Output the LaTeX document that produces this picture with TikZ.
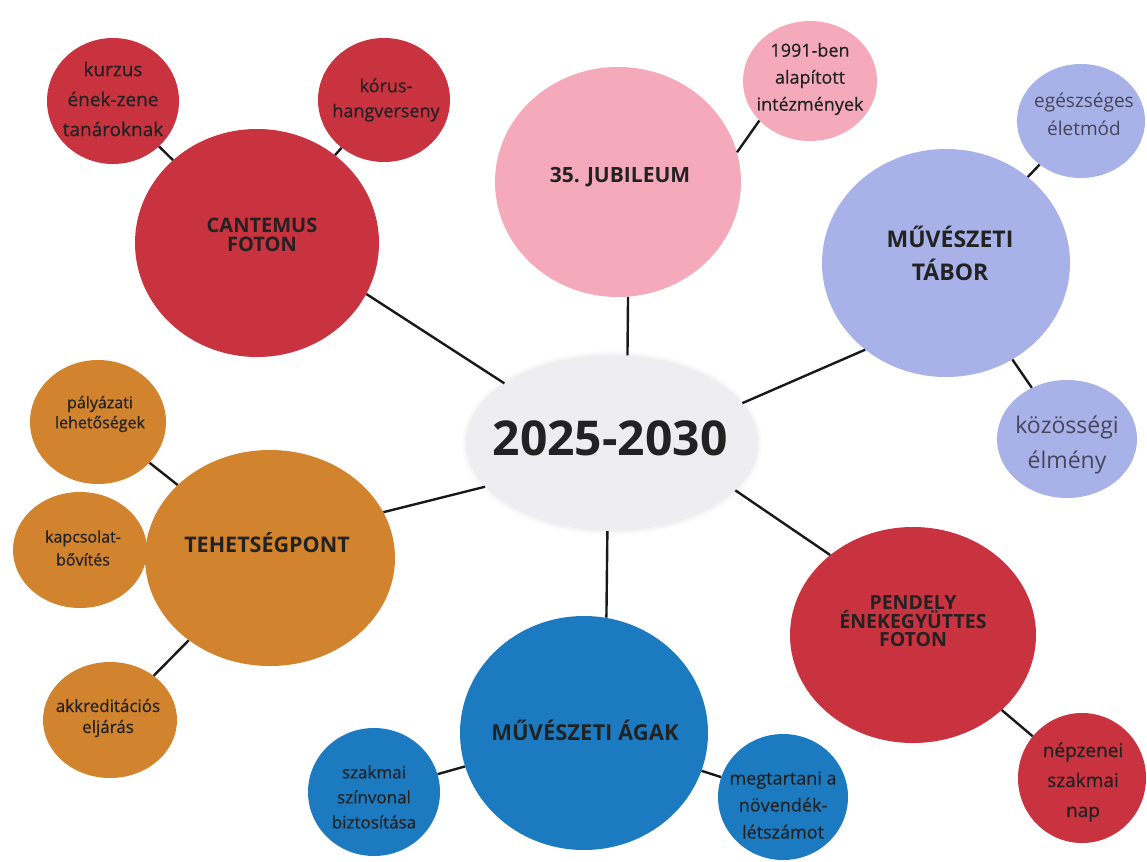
\documentclass[tikz,border=0pt]{standalone}
\usepackage{fontspec}
\setmainfont{Open Sans}
\newfontfamily\semib[FakeBold=0.6]{Open Sans}
\usetikzlibrary{shapes.geometric}
\definecolor{cred}{HTML}{C9323F}
\definecolor{cpink}{HTML}{F4AABB}
\definecolor{clav}{HTML}{A8B1E8}
\definecolor{corange}{HTML}{D1832E}
\definecolor{cblue}{HTML}{1C7BC0}
\definecolor{ccenter}{HTML}{EEEEF1}
\definecolor{txt}{HTML}{222222}
\definecolor{txtgray}{HTML}{45465A}
\tikzset{
  bub/.style={ellipse, inner sep=0pt},
  lbl/.style={inner sep=0pt, align=center, text=txt},
  conn/.style={draw=black!90, line width=2.4pt},
  fsz/.style 2 args={font=\fontsize{#1}{#2}\selectfont\semib},
  gsz/.style 2 args={font=\fontsize{#1}{#2}\selectfont, text=txtgray},
  bfsz/.style 2 args={font=\fontsize{#1}{#2}\selectfont\bfseries},
}
\begin{document}
\begin{tikzpicture}[x=1pt,y=-1pt]
\useasboundingbox (0,0) rectangle (1147,861);
\fill[white] (0,0) rectangle (1147,861);

% centre (soft edge)
\fill[ccenter!25] (612,443) ellipse [x radius=150pt, y radius=92pt];
\fill[ccenter!55] (612,443) ellipse [x radius=148pt, y radius=90pt];
\node[bub, fill=ccenter, minimum width=292pt, minimum height=176pt] (c) at (612,443) {};
\node[lbl, bfsz={48}{50}] (ct) at (610,438) {2025-2030};

% main topics
\node[bub, fill=cred, minimum width=244pt, minimum height=228pt] (cant) at (257,243) {};
\node[lbl, bfsz={20}{19}] (cantt) at (262,235) {CANTEMUS\\FOTON};
\node[bub, fill=cpink, minimum width=246pt, minimum height=230pt] (jub) at (618,182) {};
\node[lbl, bfsz={21}{22}] (jubt) at (620,177) {35. JUBILEUM};
\node[bub, fill=clav, minimum width=248pt, minimum height=228pt] (tab) at (946,263) {};
\node[lbl, bfsz={23}{33}] (tabt) at (950,253) {MŰVÉSZETI\\TÁBOR};
\node[bub, fill=cred, minimum width=246pt, minimum height=216pt] (pen) at (913,635) {};
\node[lbl, bfsz={19.5}{18}] (pent) at (913,621) {PENDELY\\ÉNEKEGYÜTTES\\FOTON};
\node[bub, fill=cblue, minimum width=248pt, minimum height=234pt] (aga) at (584,733) {};
\node[lbl, bfsz={22}{22}] (agat) at (585,730) {MŰVÉSZETI ÁGAK};
\node[bub, fill=corange, minimum width=250pt, minimum height=216pt] (teh) at (270,558) {};
\node[lbl, bfsz={21.5}{22}] (teht) at (267,543) {TEHETSÉGPONT};

% sub topics
\node[bub, fill=cred, minimum width=132pt, minimum height=126pt] (kur) at (113,101) {};
\node[lbl, fsz={19}{30}] (kurt) at (113,99) {kurzus\\ének-zene\\tanároknak};
\node[bub, fill=cred, minimum width=132pt, minimum height=124pt] (kor) at (384,100) {};
\node[lbl, fsz={18}{25}] (kort) at (386,100) {kórus-\\hangverseny};
\node[bub, fill=cpink, minimum width=134pt, minimum height=120pt] (ala) at (810,81) {};
\node[lbl, fsz={18}{27}] (alat) at (810,79) {1991-ben\\alapított\\intézmények};
\node[bub, fill=clav, minimum width=128pt, minimum height=114pt] (egs) at (1081,121) {};
\node[lbl, gsz={19}{28}] (egst) at (1084,114) {egészséges\\életmód};
\node[bub, fill=clav, minimum width=140pt, minimum height=118pt] (koz) at (1067,439) {};
\node[lbl, gsz={23}{35}] (kozt) at (1067,445) {közösségi\\élmény};
\node[bub, fill=cred, minimum width=128pt, minimum height=130pt] (nep) at (1082,778) {};
\node[lbl, fsz={19}{30}] (nept) at (1083,782) {népzenei\\szakmai\\nap};
\node[bub, fill=cblue, minimum width=130pt, minimum height=126pt] (meg) at (783,797) {};
\node[lbl, fsz={18}{27}] (megt) at (783,805) {megtartani a\\növendék-\\létszámot};
\node[bub, fill=cblue, minimum width=132pt, minimum height=128pt] (szk) at (374,792) {};
\node[lbl, fsz={17}{25}] (szkt) at (374,797) {szakmai\\színvonal\\biztosítása};
\node[bub, fill=corange, minimum width=136pt, minimum height=124pt] (pal) at (98,422) {};
\node[lbl, fsz={16}{20}] (palt) at (100,414) {pályázati\\lehetőségek};
\node[bub, fill=corange, minimum width=134pt, minimum height=116pt] (kap) at (80,550) {};
\node[lbl, fsz={16}{23}] (kapt) at (83,548) {kapcsolat-\\bővítés};
\node[bub, fill=corange, minimum width=134pt, minimum height=116pt] (akk) at (110,720) {};
\node[lbl, fsz={17}{21}] (akkt) at (108,718) {akkreditációs\\eljárás};

% connectors
\draw[conn] (c.151) -- (cant.-25);
\draw[conn] (c.80) -- (jub.-85);
\draw[conn] (c.17) -- (tab.-133);
\draw[conn] (c.-21) -- (pen.136);
\draw[conn] (c.-93) -- (aga.79);
\draw[conn] (c.199) -- (teh.22);
\draw[conn] (cant) -- (kur);
\draw[conn] (cant) -- (kor);
\draw[conn] (jub.14) -- (ala.-142);
\draw[conn] (tab) -- (egs);
\draw[conn] (tab) -- (koz);
\draw[conn] (pen) -- (nep);
\draw[conn] (aga) -- (meg);
\draw[conn] (aga) -- (szk);
\draw[conn] (teh) -- (pal);
\draw[conn] (teh) -- (akk);
\end{tikzpicture}
\end{document}
